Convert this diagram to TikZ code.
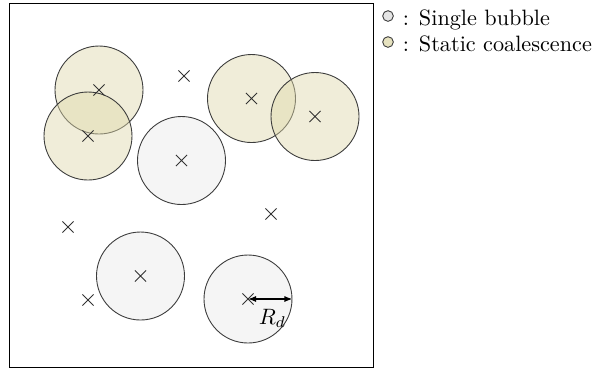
\documentclass[tikz,border=0pt]{standalone}
\usepackage{tikz}
\usetikzlibrary{shapes.misc,arrows.meta}
\definecolor{coalfill}{RGB}{222,216,170}
\definecolor{rimgray}{RGB}{60,60,60}

\begin{document}
\begin{tikzpicture}[
  x=0.45pt, y=-0.45pt,
  font=\normalsize,
  single/.style={circle, draw=rimgray, line width=0.4pt, fill=black!4,
    minimum size=39.6pt, inner sep=0pt},
  coal/.style={circle, draw=rimgray, line width=0.4pt, fill=coalfill,
    fill opacity=0.45, minimum size=39.6pt, inner sep=0pt},
  xmark/.style={cross out, draw=black!80, line width=0.4pt,
    minimum size=4.6pt, inner sep=0pt},
  legdot/.style={circle, draw=rimgray, line width=0.4pt,
    minimum size=4.8pt, inner sep=0pt},
  arr/.style={{Latex[length=3.6pt]}-{Latex[length=3.6pt]}, line width=0.5pt},
]
\useasboundingbox (0,0) rectangle (598,370);
% domain
\node[draw, line width=0.45pt, minimum width=163.8pt, minimum height=163.8pt,
  inner sep=0pt] (box) at (191.5,185) {};

% coalescing bubbles
\node[coal] (b1) at (99,90) {};
\node[coal] (b2) at (88,136) {};
\node[coal] (b3) at (251.5,98.5) {};
\node[coal] (b4) at (315,116.5) {};
% single bubbles
\node[single] (b5) at (181.5,160.5) {};
\node[single] (b6) at (140.5,276) {};
\node[single] (b7) at (248,299) {};

% bubble centres
\foreach \b in {b1,b2,b3,b4,b5,b6,b7}
  \node[xmark] at (\b.center) {};
% empty sites
\node[xmark] (s1) at (184,76) {};
\node[xmark] (s2) at (68,227) {};
\node[xmark] (s3) at (271,214) {};
\node[xmark] (s4) at (88,300) {};

% radius
\draw[arr] (b7.center) -- node[below, xshift=1pt, yshift=-1pt] {$R_d$} (b7.east);

% legend
\node[legdot, fill=black!10] (l1) at (388,16) {};
\node[anchor=base west, inner sep=0pt] (t1) at (402.5,25) {: Single bubble};
\node[legdot, fill=coalfill!75] (l2) at (388,42) {};
\node[anchor=base west, inner sep=0pt] (t2) at (402.5,51) {: Static coalescence};
\end{tikzpicture}
\end{document}
